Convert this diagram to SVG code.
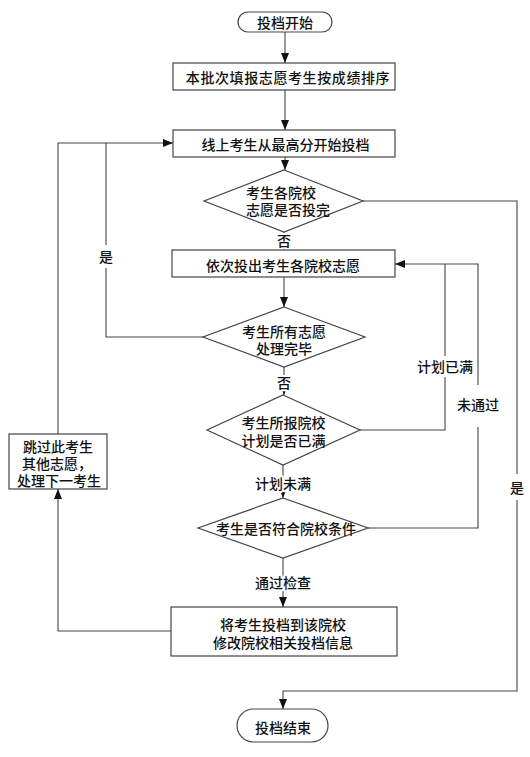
<svg xmlns="http://www.w3.org/2000/svg" width="530" height="757" viewBox="0 0 530 757">
<defs>
<marker id="arr" markerUnits="userSpaceOnUse" markerWidth="10" markerHeight="10" viewBox="0 0 10 10" refX="10" refY="5" orient="auto">
<path d="M0,1 L10,5 L0,9 Z" fill="#111"/>
</marker>
</defs>
<style>
.n{fill:#fff;stroke:#444;stroke-width:1.2}
.t{font-family:"Noto Sans CJK SC","Noto Sans CJK JP",sans-serif;font-size:14px;font-weight:500;fill:#111;text-anchor:middle;dominant-baseline:central}
.l{font-family:"Noto Sans CJK SC","Noto Sans CJK JP",sans-serif;font-size:14px;font-weight:500;fill:#111;text-anchor:middle;dominant-baseline:central;stroke:#fff;stroke-width:4;paint-order:stroke;stroke-linejoin:round}
.c{fill:none;stroke:#444;stroke-width:1.1}
.a{marker-end:url(#arr)}
</style>
<rect width="530" height="757" fill="#fff"/>
<g id="connectors">
<path class="c a" d="M285,32 V63"/>
<path class="c a" d="M285,90 V130"/>
<path class="c a" d="M285,157 V170"/>
<path class="c a" d="M284,232 V250"/>
<path class="c a" d="M284,277 V307"/>
<path class="c a" d="M284,367 V395"/>
<path class="c a" d="M283,465 V498"/>
<path class="c a" d="M283,558 V607"/>
<path class="c a" d="M171,631 H58 V489"/>
<path class="c a" d="M58,434 V143 H173"/>
<path class="c" d="M203,337 H106 V268 M106,245 V143"/>
<path class="c a" d="M363,201 H517 V474 M517,500 V691 H283 V709"/>
<path class="c" d="M360,430 H445 V377 M445,356 V264"/>
<path class="c a" d="M368,528 H478 V427 M478,385 V264 H395"/>
<text class="l" x="284" y="240">否</text>
<text class="l" x="284" y="382">否</text>
<text class="l" x="283" y="483">计划未满</text>
<text class="l" x="283" y="582">通过检查</text>
<text class="t" x="106" y="256">是</text>
<text class="t" x="517" y="487">是</text>
<text class="t" x="445" y="366">计划已满</text>
<text class="t" x="478" y="404">未通过</text>
</g>
<g id="start">
<rect class="n" x="238" y="12" width="94" height="20" rx="10"/>
<text class="t" x="285" y="22">投档开始</text>
</g>
<g id="sort">
<rect class="n" x="173" y="63" width="222" height="27"/>
<text class="t" x="288" y="76.5" letter-spacing="0.6">本批次填报志愿考生按成绩排序</text>
</g>
<g id="start-top">
<rect class="n" x="173" y="130" width="222" height="27"/>
<text class="t" x="285.5" y="143.5">线上考生从最高分开始投档</text>
</g>
<g id="d-all-done">
<path class="n" d="M284,170 L363,201 L284,232 L204,201 Z"/>
<text class="t" style="text-anchor:start"><tspan x="246" y="192">考生各院校</tspan><tspan x="246" y="209">志愿是否投完</tspan></text>
</g>
<g id="next-wish">
<rect class="n" x="172" y="250" width="223" height="27"/>
<text class="t" x="283" y="264.5">依次投出考生各院校志愿</text>
</g>
<g id="d-processed">
<path class="n" d="M284,307 L365,337 L284,367 L203,337 Z"/>
<text class="t"><tspan x="284" y="330.5">考生所有志愿</tspan><tspan x="284" y="348">处理完毕</tspan></text>
</g>
<g id="d-plan-full">
<path class="n" d="M283,395 L360,430 L283,465 L207,430 Z"/>
<text class="t"><tspan x="283.5" y="422">考生所报院校</tspan><tspan x="283.5" y="440">计划是否已满</tspan></text>
</g>
<g id="d-condition">
<path class="n" d="M283,498 L368,528 L283,558 L198,528 Z"/>
<text class="t" x="286" y="528">考生是否符合院校条件</text>
</g>
<g id="assign">
<rect class="n" x="171" y="607" width="226" height="49"/>
<text class="t"><tspan x="283" y="623.5">将考生投档到该院校</tspan><tspan x="283" y="641.5">修改院校相关投档信息</tspan></text>
</g>
<g id="skip">
<rect class="n" x="9" y="434" width="98" height="55"/>
<text class="t"><tspan x="58" y="446">跳过此考生</tspan><tspan x="57" y="463">其他志愿，</tspan><tspan x="59" y="480">处理下一考生</tspan></text>
</g>
<g id="end">
<rect class="n" x="237" y="709" width="91" height="33" rx="16.5"/>
<text class="t" x="283" y="727">投档结束</text>
</g>
</svg>
